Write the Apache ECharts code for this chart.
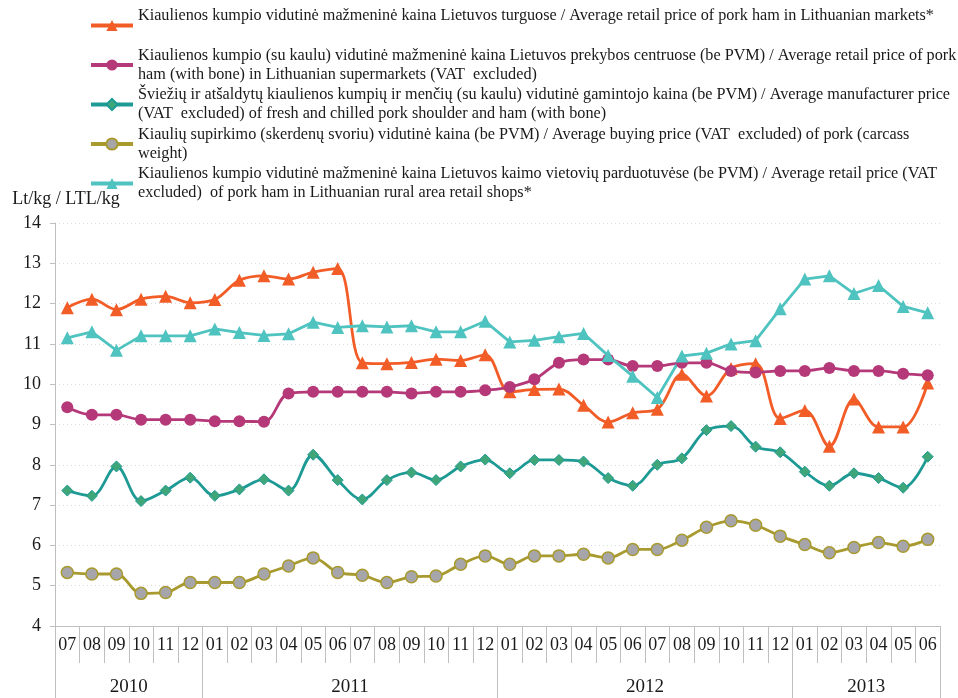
<!DOCTYPE html>
<html><head><meta charset="utf-8">
<script src="https://cdn.jsdelivr.net/npm/echarts@6/dist/echarts.min.js"></script>
<style>html,body{margin:0;padding:0;background:#fff}#c{width:958px;height:698px}</style>
</head><body><div id="c"></div>
<script>
const months = ['07','08','09','10','11','12','01','02','03','04','05','06','07','08','09','10','11','12','01','02','03','04','05','06','07','08','09','10','11','12','01','02','03','04','05','06'];
const yearLabels = ['2010','2011','2012','2013'];
const yearMonthCounts = [6,12,12,6];
const yTicks = [4,5,6,7,8,9,10,11,12,13,14];

const nameMarket = 'Kiaulienos kumpio vidutinė mažmeninė kaina Lietuvos turguose / Average retail price of pork ham in Lithuanian markets*\n ';
const nameSuper = 'Kiaulienos kumpio (su kaulu) vidutinė mažmeninė kaina Lietuvos prekybos centruose (be PVM) / Average retail price of pork\nham (with bone) in Lithuanian supermarkets (VAT  excluded)';
const nameManuf = 'Šviežių ir atšaldytų kiaulienos kumpių ir menčių (su kaulu) vidutinė gamintojo kaina (be PVM) / Average manufacturer price\n(VAT  excluded) of fresh and chilled pork shoulder and ham (with bone)';
const nameBuying = 'Kiaulių supirkimo (skerdenų svoriu) vidutinė kaina (be PVM) / Average buying price (VAT  excluded) of pork (carcass\nweight)';
const nameRural = 'Kiaulienos kumpio vidutinė mažmeninė kaina Lietuvos kaimo vietovių parduotuvėse (be PVM) / Average retail price (VAT\nexcluded)  of pork ham in Lithuanian rural area retail shops*';

const market = [11.90,12.11,11.85,12.11,12.18,12.02,12.10,12.58,12.69,12.61,12.78,12.87,10.53,10.51,10.54,10.62,10.59,10.73,9.81,9.87,9.88,9.48,9.06,9.29,9.38,10.25,9.71,10.39,10.51,9.15,9.35,8.46,9.63,8.94,8.94,10.03];
const supermarket = [9.43,9.24,9.24,9.12,9.12,9.12,9.08,9.08,9.07,9.77,9.81,9.81,9.81,9.81,9.77,9.81,9.81,9.85,9.93,10.12,10.53,10.61,10.61,10.45,10.45,10.53,10.53,10.33,10.29,10.33,10.33,10.40,10.33,10.33,10.26,10.22];
const manufacturer = [7.36,7.23,7.96,7.10,7.36,7.68,7.23,7.39,7.64,7.36,8.25,7.62,7.14,7.62,7.81,7.62,7.96,8.13,7.79,8.12,8.12,8.08,7.67,7.48,8.00,8.16,8.86,8.96,8.45,8.31,7.83,7.48,7.79,7.67,7.43,8.20];
const buying = [5.33,5.29,5.29,4.81,4.83,5.08,5.08,5.08,5.29,5.49,5.69,5.33,5.26,5.08,5.22,5.24,5.53,5.74,5.53,5.74,5.74,5.78,5.69,5.90,5.90,6.13,6.45,6.61,6.50,6.23,6.02,5.82,5.95,6.07,5.98,6.15];
const rural = [11.15,11.30,10.84,11.20,11.20,11.20,11.37,11.28,11.21,11.25,11.54,11.41,11.45,11.42,11.45,11.30,11.30,11.56,11.05,11.09,11.18,11.26,10.71,10.20,9.67,10.70,10.77,11.00,11.08,11.87,12.61,12.69,12.25,12.45,11.93,11.77];

// year boundaries and centres (in category units)
const yearBounds = [0];
yearMonthCounts.forEach(n => yearBounds.push(yearBounds[yearBounds.length - 1] + n));
const yearCenters = yearLabels.map((y, i) => (yearBounds[i] + yearBounds[i + 1]) / 2);

const FONT = '"Liberation Serif", "Times New Roman", serif';
const AXIS_GRAY = '#BFBFBF';

const chart = echarts.init(document.getElementById('c'), null, {renderer: 'canvas'});
chart.setOption({
  animation: false,
  textStyle: {fontFamily: FONT},
  grid: {left: 55, right: 18, top: 223, bottom: 72, containLabel: false},
  legend: {
    orient: 'vertical', left: 89, top: -3, padding: 0,
    itemWidth: 42, itemHeight: 14, itemGap: -17.5,
    lineStyle: {width: 4},
    textStyle: {fontFamily: FONT, fontSize: 16.2, color: '#1a1a1a', lineHeight: 19, padding: [19, 0, 0, 0]},
    data: [nameMarket, nameSuper, nameManuf, nameBuying, nameRural]
  },
  xAxis: [{
    type: 'category', data: months, boundaryGap: true,
    axisLine: {lineStyle: {color: AXIS_GRAY, width: 1}},
    axisTick: {show: true, length: 37, lineStyle: {color: AXIS_GRAY}},
    axisLabel: {fontFamily: FONT, fontSize: 18, color: '#1a1a1a', margin: 10, interval: 0}
  }, {
    type: 'value', min: 0, max: months.length, position: 'bottom',
    axisLine: {show: false},
    splitLine: {show: false},
    axisTick: {show: true, length: 72, customValues: yearBounds, lineStyle: {color: AXIS_GRAY}},
    axisLabel: {
      customValues: yearCenters, fontFamily: FONT, fontSize: 19, color: '#1a1a1a', margin: 52,
      formatter: v => { const i = yearCenters.indexOf(v); return i >= 0 ? yearLabels[i] : ''; }
    }
  }],
  yAxis: {
    type: 'value', min: yTicks[0], max: yTicks[yTicks.length - 1], interval: 1,
    name: 'Lt/kg / LTL/kg', nameLocation: 'end', nameGap: 15,
    nameTextStyle: {fontFamily: FONT, fontSize: 18, color: '#1a1a1a', align: 'center', padding: [0, 0, 0, 22]},
    axisLine: {show: true, lineStyle: {color: AXIS_GRAY}},
    axisTick: {show: true, length: 5, lineStyle: {color: AXIS_GRAY}},
    axisLabel: {fontFamily: FONT, fontSize: 18, color: '#1a1a1a', margin: 14},
    splitLine: {show: true, lineStyle: {color: '#D9D9D9', type: [1, 3], width: 1}}
  },
  series: [{
    name: nameMarket, type: 'line', data: market, smooth: 0.35,
    symbol: 'triangle', symbolSize: 13,
    lineStyle: {color: '#F25C27', width: 2.8},
    itemStyle: {color: '#F25C27'}
  }, {
    name: nameSuper, type: 'line', data: supermarket, smooth: 0.35,
    symbol: 'circle', symbolSize: 12,
    lineStyle: {color: '#B53878', width: 2.8},
    itemStyle: {color: '#B53878'}
  }, {
    name: nameManuf, type: 'line', data: manufacturer, smooth: 0.35,
    symbol: 'diamond', symbolSize: 11,
    lineStyle: {color: '#1E9A94', width: 2.8},
    itemStyle: {color: '#3FA67A', borderColor: '#1E9A94', borderWidth: 1}
  }, {
    name: nameBuying, type: 'line', data: buying, smooth: 0.35,
    symbol: 'circle', symbolSize: 12,
    lineStyle: {color: '#A89A2E', width: 2.8},
    itemStyle: {color: '#A6A6AA', borderColor: '#A89A2E', borderWidth: 1.5}
  }, {
    name: nameRural, type: 'line', data: rural, smooth: false,
    symbol: 'triangle', symbolSize: 13,
    lineStyle: {color: '#4EC3BF', width: 2.8},
    itemStyle: {color: '#4EC3BF'}
  }]
});
</script></body></html>
